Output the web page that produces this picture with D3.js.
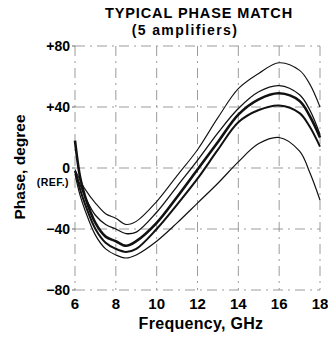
<!DOCTYPE html>
<html>
<head>
<meta charset="utf-8">
<script src="https://cdn.jsdelivr.net/npm/d3@7"></script>
<style>
  html, body { margin: 0; padding: 0; background: #fff; }
  svg { display: block; font-family: "Liberation Sans", Arial, sans-serif; }
</style>
</head>
<body>
<div id="chart"></div>
<script>
// frequency points (GHz) shared by all curves
const freqs = [6, 6.25, 6.5, 7, 7.5, 8, 8.5, 9, 10, 11, 12, 13, 14, 15, 16, 17, 17.5, 18];

// phase (degree) for each amplifier
const ampA = [-1, -8, -14, -23, -30, -33, -37, -35, -22, -5, 12, 33, 52, 62, 69, 64, 55, 40];
const ampB = [-2, -11, -19, -31, -37, -40, -43, -42, -29, -12, 5, 23, 39, 50, 54, 48, 38, 22];
const ampC = [18, -6, -19, -36, -45, -48, -51, -48, -36, -19, -1, 17, 35, 45, 49, 44, 34, 20];
const ampD = [-2, -14, -24, -40, -49, -53, -55, -53, -40, -24, -7, 12, 30, 38, 41, 36, 27, 14];
const ampE = [-4, -18, -28, -44, -53, -57, -59, -57, -48, -36, -23, -10, 4, 16, 20, 11, -3, -21];

const series = [
  { name: "A", values: ampA, width: 1.1 },
  { name: "B", values: ampB, width: 1.3 },
  { name: "C", values: ampC, width: 2.6 },
  { name: "D", values: ampD, width: 2.0 },
  { name: "E", values: ampE, width: 1.2 }
];

const xTicks = [6, 8, 10, 12, 14, 16, 18];
const yTicks = [80, 40, 0, -40, -80];
const yTickLabels = ["+80", "+40", "0", "\u221240", "\u221280"];

const width = 328, height = 337;
const margin = { left: 75, right: 8, top: 46, bottom: 47 };

const svg = d3.select("#chart").append("svg")
  .attr("width", width)
  .attr("height", height);

const x = d3.scaleLinear().domain([6, 18]).range([margin.left, width - margin.right]);
const y = d3.scaleLinear().domain([-80, 80]).range([height - margin.bottom, margin.top]);

// grid (dash-dot, like the scanned chart)
const grid = svg.append("g")
  .attr("stroke", "#909090")
  .attr("stroke-width", 0.9)
  .attr("stroke-dasharray", "10,5,2,5")
  .attr("fill", "none");

grid.selectAll("line.vx")
  .data(xTicks)
  .join("line")
  .attr("x1", d => x(d)).attr("x2", d => x(d))
  .attr("y1", y(80)).attr("y2", y(-80));

grid.selectAll("line.hy")
  .data(yTicks)
  .join("line")
  .attr("x1", x(6)).attr("x2", x(18))
  .attr("y1", d => y(d)).attr("y2", d => y(d));

// small tick marks on the left axis
svg.append("g").selectAll("line")
  .data(yTicks)
  .join("line")
  .attr("x1", x(6) - 3).attr("x2", x(6))
  .attr("y1", d => y(d)).attr("y2", d => y(d))
  .attr("stroke", "#666").attr("stroke-width", 1);

// curves
const line = d3.line()
  .x((d, i) => x(freqs[i]))
  .y(d => y(d))
  .curve(d3.curveCatmullRom.alpha(0.5));

svg.append("g")
  .attr("fill", "none")
  .attr("stroke", "#111")
  .attr("stroke-linejoin", "round")
  .selectAll("path")
  .data(series)
  .join("path")
  .attr("stroke-width", d => d.width)
  .attr("d", d => line(d.values));

// y tick labels
svg.append("g")
  .attr("text-anchor", "end")
  .style("font-size", "14px")
  .style("font-weight", "bold")
  .selectAll("text")
  .data(yTicks)
  .join("text")
  .attr("x", x(6) - 5)
  .attr("y", d => y(d) - 0.5)
  .attr("dy", "0.36em")
  .text((d, i) => yTickLabels[i]);

svg.append("text")
  .attr("x", x(6) - 6)
  .attr("y", y(0) + 18)
  .attr("text-anchor", "end")
  .style("font-size", "10.5px")
  .style("font-weight", "bold")
  .style("letter-spacing", "0.4px")
  .text("(REF.)");

// x tick labels
svg.append("g")
  .attr("text-anchor", "middle")
  .style("font-size", "15px")
  .style("font-weight", "bold")
  .selectAll("text")
  .data(xTicks)
  .join("text")
  .attr("x", d => x(d))
  .attr("y", y(-80) + 19)
  .text(d => d);

// axis titles
svg.append("text")
  .attr("x", 201)
  .attr("y", 329)
  .attr("text-anchor", "middle")
  .style("font-size", "16px")
  .style("font-weight", "bold")
  .style("letter-spacing", "0.3px")
  .text("Frequency, GHz");

svg.append("text")
  .attr("transform", `translate(25,167) rotate(-90)`)
  .attr("text-anchor", "middle")
  .style("font-size", "15.5px")
  .style("font-weight", "bold")
  .text("Phase, degree");

// title
svg.append("text")
  .attr("x", 199)
  .attr("y", 18)
  .attr("text-anchor", "middle")
  .style("font-size", "14.5px")
  .style("font-weight", "bold")
  .style("letter-spacing", "0.9px")
  .text("TYPICAL PHASE MATCH");

svg.append("text")
  .attr("x", 185)
  .attr("y", 35)
  .attr("text-anchor", "middle")
  .style("font-size", "14px")
  .style("font-weight", "bold")
  .style("letter-spacing", "1.4px")
  .text("(5 amplifiers)");
</script>
</body>
</html>
